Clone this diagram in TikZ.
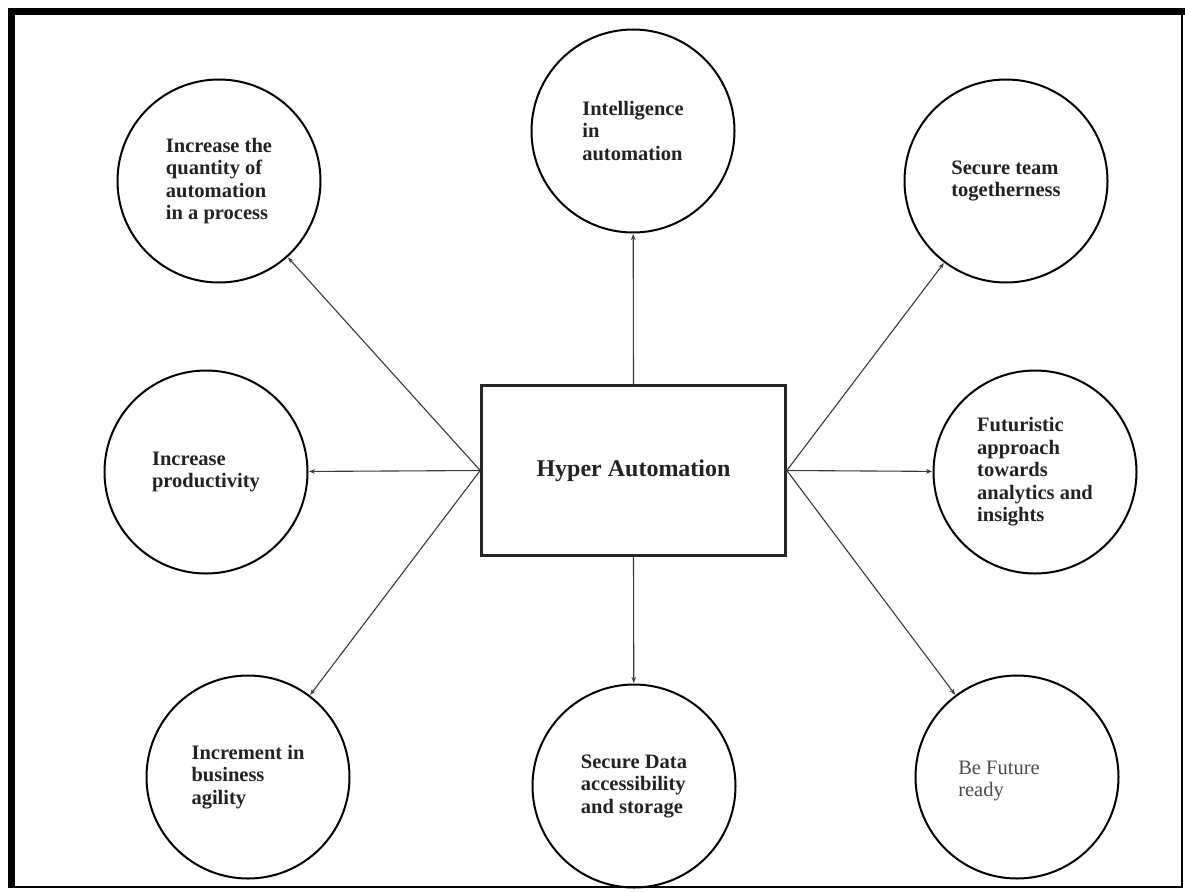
\documentclass[tikz,border=0pt]{standalone}
\usepackage{fontspec}
\setmainfont{Liberation Serif}
\usetikzlibrary{arrows.meta}

\definecolor{inkgray}{HTML}{222222}
\definecolor{linegray}{HTML}{3A3A3A}

\tikzset{
  bubble/.style={draw=black, line width=2pt, circle, minimum size=203pt,
    inner sep=0pt, align=left, text=inkgray,
    font=\bfseries\fontsize{20.5}{22.5}\selectfont},
  hub/.style={draw=black!85, line width=2.6pt, minimum width=304pt,
    minimum height=170pt, inner sep=0pt, text=inkgray,
    font=\bfseries\fontsize{24}{27}\selectfont},
  link/.style={draw=linegray, line width=1.1pt,
    -{Stealth[length=6pt,width=4.5pt]}, shorten >=0.5pt},
  plain/.style={align=left, text=black!70,
    font=\fontsize{20.5}{22.5}\selectfont}
}

\begin{document}
\begin{tikzpicture}[x=1pt,y=-1pt]
  % page and frame
  \fill[white] (0,0) rectangle (1185,891);
  \useasboundingbox (0,0) rectangle (1185,891);
  \draw[black, line width=2pt] (1182,12) -- (1182,886.5) -- (12,886.5);
  \fill[black] (8,8) rectangle (1185,15);
  \fill[black] (8,8) rectangle (15,888);

  % central box
  \node[hub] (hub) at (633.5,470.5) {Hyper Automation};

  % surrounding bubbles
  \node[bubble] (qty)   at (219,181)  {Increase the\\quantity of\\automation\\in a process};
  \node[bubble] (intel) at (633,131)  {Intelligence\\in\\automation};
  \node[bubble] (team)  at (1006,181) {Secure team\\togetherness};
  \node[bubble] (prod)  at (206,472)  {Increase\\productivity};
  \node[bubble] (futur) at (1035,472) {Futuristic\\approach\\towards\\analytics and\\insights};
  \node[bubble] (agile) at (248,777)  {Increment in\\business\\agility};
  \node[bubble] (data)  at (634,786)  {Secure Data\\accessibility\\and storage};
  \node[bubble] (ready) at (1017,777) {};
  \node[plain]  (readytext) at (999,781) {Be Future\\ready};

  % connectors
  \draw[link] (hub.north) -- (intel);
  \draw[link] (hub.south) -- (data);
  \draw[link] (hub.west) -- (prod);
  \draw[link] (hub.east) -- (futur);
  \draw[link] (hub.west) -- (qty);
  \draw[link] (hub.west) -- (agile);
  \draw[link] (hub.east) -- (team);
  \draw[link] (hub.east) -- (ready);
\end{tikzpicture}
\end{document}
